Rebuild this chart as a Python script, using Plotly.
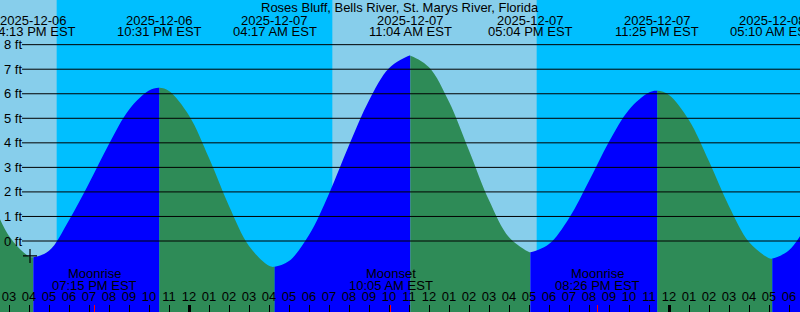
import plotly.graph_objects as go
from datetime import datetime, timedelta

# ---------------- data ----------------
station = "Roses Bluff, Bells River, St. Marys River, Florida"

extreme_times = ["2025-12-06 16:13", "2025-12-06 22:31", "2025-12-07 04:17",
                 "2025-12-07 11:04", "2025-12-07 17:04", "2025-12-07 23:25",
                 "2025-12-08 05:10"]
extreme_heights = [-0.66, 6.24, -1.05, 7.55, -0.46, 6.12, -0.71]
extreme_kinds = ["L", "H", "L", "H", "L", "H", "L"]
extreme_date_labels = ["2025-12-06", "2025-12-06", "2025-12-07", "2025-12-07",
                       "2025-12-07", "2025-12-07", "2025-12-08"]
extreme_time_labels = ["04:13 PM EST", "10:31 PM EST", "04:17 AM EST",
                       "11:04 AM EST", "05:04 PM EST", "11:25 PM EST",
                       "05:10 AM EST"]

# hourly heights (ft) from 2025-12-06 14:00 to 2025-12-08 07:00
hourly_start = "2025-12-06 14:00"
hourly_heights = [1.97, 0.20, -0.63, -0.40, 0.85, 2.35, 3.95, 5.35, 6.13,
                  6.11, 5.11, 3.38, 1.43, -0.20, -1.01, -0.82, 0.24, 1.93,
                  3.90, 5.73, 7.04, 7.55, 7.08, 5.67, 3.69, 1.66, 0.15,
                  -0.45, -0.12, 0.93, 2.44, 4.04, 5.35, 6.05, 5.95, 4.92,
                  3.25, 1.42, -0.04, -0.70, -0.38, 0.81]

daylight = [("2025-12-06 12:00", "2025-12-06 17:23"),
            ("2025-12-07 07:10", "2025-12-07 17:23")]

moon_times = ["2025-12-06 19:15", "2025-12-07 10:05", "2025-12-07 20:26"]
moon_names = ["Moonrise", "Moonset", "Moonrise"]
moon_time_labels = ["07:15 PM EST", "10:05 AM EST", "08:26 PM EST"]

midnights = ["2025-12-07 00:00", "2025-12-08 00:00"]

now_time = "2025-12-06 16:03"
now_height = -0.61

ft_ticks = [0, 1, 2, 3, 4, 5, 6, 7, 8]
ft_labels = [f"{v} ft" for v in ft_ticks]

x_range = ["2025-12-06 14:33:00", "2025-12-08 06:33:00"]
y_range = [-2.893, 9.82]

# ---------------- colours ----------------
DAY = "#87CEEB"
NIGHT = "#00BFFF"
RISE = "#0000FF"
FALL = "#2E8B57"
FONT = "Liberation Sans, Arial, sans-serif"
W, H = 800.0, 312.0

fmt = "%Y-%m-%d %H:%M"
fmt_s = "%Y-%m-%d %H:%M:%S"
t0 = datetime.strptime(hourly_start, fmt)
pts = [(t0 + timedelta(hours=i), h) for i, h in enumerate(hourly_heights)]
pts += [(datetime.strptime(t, fmt), h) for t, h in zip(extreme_times, extreme_heights)]
pts.sort(key=lambda p: p[0])
curve_x = [p[0] for p in pts]
curve_y = [p[1] for p in pts]

r0 = datetime.strptime(x_range[0], fmt_s)
r1 = datetime.strptime(x_range[1], fmt_s)
span = (r1 - r0).total_seconds()

def frac(t):
    return min(1.0, max(0.0, (t - r0).total_seconds() / span))

bounds = [r0] + [datetime.strptime(t, fmt) for t in extreme_times] + [r1]
seg_rising = [k == "H" for k in extreme_kinds] + [extreme_kinds[-1] == "L"]

fig = go.Figure()
layout_axes = {}
ybot = y_range[0] - 2

# each rise / fall interval gets its own clipped sub-area showing the full smooth curve
for k in range(len(bounds) - 1):
    a, b = bounds[k], bounds[k + 1]
    xid = "x" if k == 0 else f"x{k + 1}"
    color = RISE if seg_rising[k] else FALL
    fig.add_trace(go.Scatter(x=[curve_x[0], curve_x[-1]], y=[ybot, ybot], mode="lines",
                             line=dict(width=0), hoverinfo="skip", showlegend=False,
                             xaxis=xid, yaxis="y"))
    fig.add_trace(go.Scatter(x=curve_x, y=curve_y, mode="lines",
                             line=dict(width=0, shape="spline", smoothing=1.0),
                             fill="tonexty", fillcolor=color, hoverinfo="skip",
                             showlegend=False, xaxis=xid, yaxis="y"))
    name = "xaxis" if k == 0 else f"xaxis{k + 1}"
    layout_axes[name] = dict(type="date", domain=[frac(a), frac(b)], range=[a, b],
                             visible=False, anchor="y", fixedrange=True)

n_seg = len(bounds) - 1
lab = n_seg + 1          # labelled hour axis
mid = n_seg + 2          # thick midnight ticks
moo = n_seg + 3          # red moon ticks

fig.add_trace(go.Scatter(x=[now_time], y=[now_height], mode="markers",
                         marker=dict(symbol="cross-thin", size=10,
                                     line=dict(width=1.2, color="black")),
                         hoverinfo="skip", showlegend=False,
                         xaxis=f"x{lab}", yaxis="y2"))
fig.add_trace(go.Scatter(x=[], y=[], xaxis=f"x{mid}", yaxis="y2", showlegend=False))
fig.add_trace(go.Scatter(x=[], y=[], xaxis=f"x{moo}", yaxis="y2", showlegend=False))

tick_common = dict(type="date", range=x_range, anchor="free", position=8 / H,
                   side="top", ticks="inside", ticklen=8, showgrid=False,
                   zeroline=False, showline=False, fixedrange=True)
layout_axes[f"xaxis{lab}"] = dict(domain=[0, 1], tickformat="%I", dtick=3600000,
                                  tick0="2025-12-06 00:00", tickwidth=1,
                                  tickcolor="black",
                                  tickfont=dict(family=FONT, size=13, color="black"),
                                  **tick_common)
layout_axes[f"xaxis{mid}"] = dict(overlaying=f"x{lab}", tickvals=midnights,
                                  tickwidth=3, tickcolor="black",
                                  showticklabels=False, **tick_common)
layout_axes[f"xaxis{moo}"] = dict(overlaying=f"x{lab}", tickvals=moon_times,
                                  tickwidth=1, tickcolor="red",
                                  showticklabels=False, **tick_common)

# daylight bands (below everything)
for d0, d1 in daylight:
    fig.add_shape(type="rect", xref=f"x{lab}", yref="paper", x0=d0, x1=d1, y0=0, y1=1,
                  fillcolor=DAY, line=dict(width=0), layer="below")

# horizontal foot lines
for v in ft_ticks:
    fig.add_shape(type="line", xref="paper", x0=22 / W, x1=1, yref="y2", y0=v, y1=v,
                  line=dict(color="black", width=1), layer="above")

def py(pix):
    return 1 - pix / H

ann_font = dict(family=FONT, size=13, color="black")
fig.add_annotation(x=0.5, xref="paper", y=py(7.5), yref="paper", text=station,
                   showarrow=False, font=ann_font, yanchor="middle")
for t, d, s in zip(extreme_times, extreme_date_labels, extreme_time_labels):
    fig.add_annotation(x=t, xref=f"x{lab}", y=py(20), yref="paper", text=d,
                       showarrow=False, font=ann_font, yanchor="middle")
    fig.add_annotation(x=t, xref=f"x{lab}", y=py(32), yref="paper", text=s,
                       showarrow=False, font=ann_font, yanchor="middle")
for t, nm, s in zip(moon_times, moon_names, moon_time_labels):
    fig.add_annotation(x=t, xref=f"x{lab}", y=py(273), yref="paper", text=nm,
                       showarrow=False, font=ann_font, yanchor="middle")
    fig.add_annotation(x=t, xref=f"x{lab}", y=py(285), yref="paper", text=s,
                       showarrow=False, font=ann_font, yanchor="middle")

fig.update_layout(
    width=800, height=312, autosize=False,
    margin=dict(l=0, r=0, t=0, b=0, pad=0),
    paper_bgcolor=NIGHT, plot_bgcolor="rgba(0,0,0,0)",
    showlegend=False,
    font=dict(family=FONT, size=13, color="black"),
    yaxis=dict(range=y_range, domain=[0, 1], visible=False, anchor="x",
               fixedrange=True),
    yaxis2=dict(range=y_range, domain=[0, 1], anchor="free", position=22 / W,
                side="left", tickvals=ft_ticks, ticktext=ft_labels, ticks="",
                showgrid=False, zeroline=False, showline=False,
                tickfont=dict(family=FONT, size=13, color="black"),
                fixedrange=True),
    **layout_axes,
)

fig.write_html("out.html", config={"displayModeBar": False, "staticPlot": True})
